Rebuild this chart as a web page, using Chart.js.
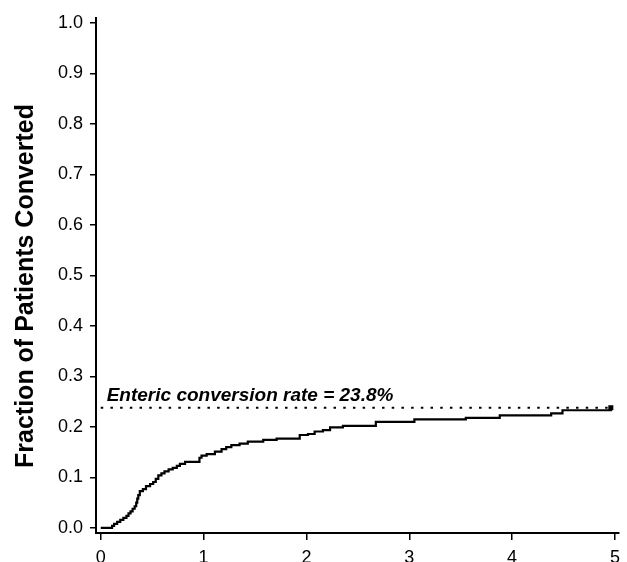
<!DOCTYPE html>
<html>
<head>
<meta charset="utf-8">
<script src="https://cdn.jsdelivr.net/npm/chart.js@4"></script>
<style>
  html, body { margin: 0; padding: 0; background: #fff; overflow: hidden; }
  #wrap { width: 627px; height: 562px; overflow: hidden; position: relative; }
  canvas { display: block; }
</style>
</head>
<body>
<div id="wrap"><canvas id="c" width="627" height="575"></canvas></div>
<script>
// ---- Data ----
const timeYears = [0, 0.11, 0.13, 0.16, 0.19, 0.22, 0.25, 0.27, 0.29, 0.31, 0.33, 0.345, 0.355, 0.365, 0.38,
  0.41, 0.44, 0.48, 0.51, 0.535, 0.56, 0.59, 0.62, 0.66, 0.70, 0.74, 0.77, 0.82, 0.96, 0.98,
  1.03, 1.11, 1.175, 1.22, 1.27, 1.35, 1.43, 1.58, 1.71, 1.935, 2.015, 2.08, 2.16, 2.23, 2.355,
  2.675, 3.05, 3.55, 3.88, 4.38, 4.49, 4.96];
const fractionConverted = [0, 0.004, 0.008, 0.012, 0.016, 0.020, 0.024, 0.029, 0.033, 0.038, 0.043, 0.050, 0.058, 0.065, 0.073,
  0.077, 0.083, 0.087, 0.091, 0.097, 0.104, 0.108, 0.112, 0.116, 0.119, 0.123, 0.127, 0.131, 0.139, 0.143,
  0.146, 0.151, 0.156, 0.160, 0.164, 0.167, 0.171, 0.1745, 0.177, 0.184, 0.186, 0.191, 0.1935, 0.199, 0.202,
  0.210, 0.215, 0.218, 0.223, 0.227, 0.233, 0.238];
const conversionRate = 0.238;
const rateLineX = [0, 4.95];
const xTickValues = [0, 1, 2, 3, 4, 5];
const yTickValues = [0, 0.1, 0.2, 0.3, 0.4, 0.5, 0.6, 0.7, 0.8, 0.9, 1.0];
const yAxisTitle = 'Fraction of Patients Converted';
const rateLabel = 'Enteric conversion rate = 23.8%';
const rateLabelPos = { x: 0.058, y: 0.251 };

const FONT = '"Liberation Sans", Arial, Helvetica, sans-serif';

const curveData = timeYears.map((t, i) => ({ x: t, y: fractionConverted[i] }));
const rateData = rateLineX.map(x => ({ x: x, y: conversionRate }));

const textPlugin = {
  id: 'texts',
  afterDraw(chart) {
    const ctx = chart.ctx;
    const xs = chart.scales.x, ys = chart.scales.y;
    ctx.save();
    ctx.fillStyle = '#000';
    // annotation
    ctx.font = 'italic bold 19px ' + FONT;
    ctx.textAlign = 'left';
    ctx.textBaseline = 'alphabetic';
    ctx.fillText(rateLabel, xs.getPixelForValue(rateLabelPos.x), ys.getPixelForValue(rateLabelPos.y));
    // y axis title
    ctx.translate(33, 286);
    ctx.rotate(-Math.PI / 2);
    ctx.font = 'bold 25px ' + FONT;
    ctx.textAlign = 'center';
    ctx.textBaseline = 'alphabetic';
    ctx.fillText(yAxisTitle, 0, 0);
    ctx.restore();
  }
};

new Chart(document.getElementById('c'), {
  type: 'line',
  data: {
    datasets: [
      {
        data: curveData,
        borderColor: '#000',
        backgroundColor: '#000',
        borderWidth: 2.2,
        stepped: 'before',
        tension: 0,
        pointRadius: ctx => ctx.dataIndex === curveData.length - 1 ? 2 : 0,
        pointStyle: 'rect',
        fill: false
      },
      {
        data: rateData,
        borderColor: '#000',
        borderWidth: 2,
        borderDash: [2.5, 7.2],
        borderCapStyle: 'butt',
        pointRadius: 0,
        fill: false
      }
    ]
  },
  options: {
    responsive: false,
    devicePixelRatio: 1,
    animation: false,
    layout: { padding: { left: 0, right: 7, top: 13, bottom: 0 } },
    plugins: { legend: { display: false }, tooltip: { enabled: false } },
    scales: {
      x: {
        type: 'linear',
        min: -0.046,
        max: 5.04,
        afterBuildTicks: s => { s.ticks = xTickValues.map(v => ({ value: v })); },
        afterFit: s => { s.height = 42; },
        border: { display: true, color: '#000', width: 2 },
        grid: { display: true, drawOnChartArea: false, drawTicks: true, tickLength: 7, color: '#000', lineWidth: 1.5 },
        ticks: { color: '#000', font: { family: FONT, size: 18 }, padding: 7, maxRotation: 0,
                 callback: v => String(v) }
      },
      y: {
        type: 'linear',
        min: -0.01,
        max: 1.01,
        afterBuildTicks: s => { s.ticks = yTickValues.map(v => ({ value: v })); },
        afterFit: s => { s.width = 96; },
        border: { display: true, color: '#000', width: 2 },
        grid: { display: true, drawOnChartArea: false, drawTicks: true, tickLength: 6, color: '#000', lineWidth: 1.5 },
        ticks: { color: '#000', font: { family: FONT, size: 18 }, padding: 7,
                 callback: v => Number(v).toFixed(1) }
      }
    }
  },
  plugins: [textPlugin]
});
</script>
</body>
</html>
